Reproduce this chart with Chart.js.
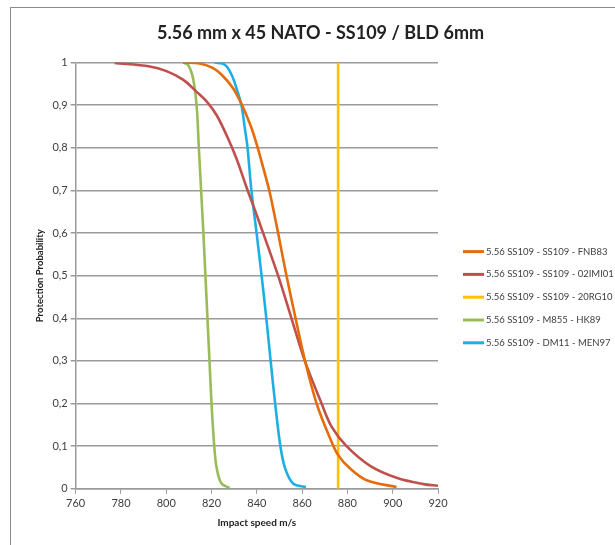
<!DOCTYPE html>
<html>
<head>
<meta charset="utf-8">
<script src="https://cdn.jsdelivr.net/npm/chart.js@4/dist/chart.umd.min.js"></script>
<style>
  body { margin: 0; background: #fff; }
  #frame { position: absolute; left: 10px; top: 7px; width: 605px; height: 538px;
           border-left: 1px solid #8c8c8c; border-top: 1px solid #8c8c8c; }
  #wrap { position: absolute; left: 0; top: 0; width: 615px; height: 545px; }
</style>
</head>
<body>
<div id="frame"></div>
<div id="wrap"><canvas id="protChart" width="615" height="545"></canvas></div>
<script>
const seriesNames = [
    '5.56 SS109 - SS109 - FNB83',
    '5.56 SS109 - SS109 - 02IMI01',
    '5.56 SS109 - SS109 - 20RG10',
    '5.56 SS109 - M855 - HK89',
    '5.56 SS109 - DM11 - MEN97'
];
const seriesColors = ['#E46C0A', '#C0504D', '#FFC000', '#9BBB59', '#1DAEE6'];

const fnb83Speed = [807.4, 814.8, 820.7, 825.1, 829.5, 833.5, 837.4, 840.4, 843, 845.5, 847.5, 849.4, 853.1, 857.1, 861.3, 866.4, 872.3, 875.9, 881.1, 888.5, 901.7];
const fnb83Prob  = [1, 0.998, 0.987, 0.968, 0.94, 0.9, 0.85, 0.8, 0.75, 0.7, 0.65, 0.6, 0.5, 0.4, 0.3, 0.2, 0.119, 0.079, 0.048, 0.02, 0.004];

const imi01Speed = [777.2, 792.7, 800.1, 807.4, 813.3, 817.8, 822.2, 826.6, 831, 835.4, 838.4, 842.8, 849.4, 855.3, 861.2, 868.6, 873, 879.6, 890, 901.7, 913.5, 920];
const imi01Prob  = [0.999, 0.991, 0.98, 0.96, 0.932, 0.909, 0.877, 0.83, 0.775, 0.708, 0.665, 0.6, 0.5, 0.4, 0.3, 0.2, 0.146, 0.1, 0.054, 0.026, 0.011, 0.007];

const rg10Speed = [875.9, 875.9];
const rg10Prob  = [1, 0];

const hk89Speed = [807.4, 809.6, 811.8, 813.4, 814.4, 815.4, 816.4, 817.3, 818.2, 819.1, 820, 821.2, 822.3, 824.4, 828];
const hk89Prob  = [1, 0.995, 0.964, 0.9, 0.8, 0.7, 0.6, 0.5, 0.4, 0.3, 0.2, 0.1, 0.048, 0.0125, 0.002];

const men97Speed = [821.4, 825.9, 828.8, 831, 833.2, 834.7, 835.9, 837.6, 839.9, 842.1, 844.2, 846.1, 848.1, 850.4, 852.5, 856, 861.7];
const men97Prob  = [1, 0.995, 0.972, 0.94, 0.9, 0.846, 0.8, 0.7, 0.6, 0.5, 0.4, 0.3, 0.2, 0.1, 0.048, 0.0125, 0.004];

const speedsList = [fnb83Speed, imi01Speed, rg10Speed, hk89Speed, men97Speed];
const probsList = [fnb83Prob, imi01Prob, rg10Prob, hk89Prob, men97Prob];

function toPoints(xs, ys) {
    return xs.map(function(x, i) { return { x: x, y: ys[i] }; });
}

// legend drawn beside the plot, Excel style (short line + label)
const sideLegend = {
    id: 'sideLegend',
    afterDraw: function(chart) {
        const c = chart.ctx;
        const area = chart.chartArea;
        const x0 = area.right + 25;
        let y = area.top + 189;
        c.save();
        c.font = '9.5px Lato';
        c.textBaseline = 'middle';
        chart.data.datasets.forEach(function(ds) {
            c.strokeStyle = ds.borderColor;
            c.lineWidth = 3;
            c.beginPath();
            c.moveTo(x0, y);
            c.lineTo(x0 + 21, y);
            c.stroke();
            c.fillStyle = '#404040';
            c.fillText(ds.label, x0 + 23, y);
            y += 22.8;
        });
        c.restore();
    }
};

const ctx = document.getElementById('protChart');
new Chart(ctx, {
    type: 'scatter',
    data: {
        datasets: seriesNames.map(function(name, i) {
            return {
                label: name,
                data: toPoints(speedsList[i], probsList[i]),
                showLine: true,
                borderColor: seriesColors[i],
                backgroundColor: seriesColors[i],
                borderWidth: 2.6,
                pointRadius: 0,
                tension: 0.35
            };
        })
    },
    plugins: [sideLegend],
    options: {
        responsive: false,
        animation: false,
        layout: { padding: { top: 12, right: 4, bottom: 12, left: 30 } },
        plugins: {
            title: {
                display: true,
                text: '5.56 mm x 45 NATO - SS109 / BLD 6mm',
                color: '#222',
                font: { family: 'Lato', size: 18, weight: 'bold' },
                padding: { top: 10, bottom: 19 }
            },
            legend: { display: false },
            tooltip: { enabled: false }
        },
        scales: {
            x: {
                type: 'linear',
                min: 760,
                max: 920,
                ticks: { stepSize: 20, color: '#404040', font: { family: 'Lato', size: 11 } },
                grid: { drawOnChartArea: false, tickLength: 5, color: '#9a9a9a' },
                border: { color: '#9a9a9a', width: 1.5 },
                title: {
                    display: true,
                    text: 'Impact speed m/s',
                    color: '#222',
                    font: { family: 'Lato', size: 10, weight: 'bold' }
                }
            },
            y: {
                min: 0,
                max: 1,
                ticks: {
                    stepSize: 0.1,
                    color: '#404040',
                    font: { family: 'Lato', size: 11 },
                    callback: function(value) {
                        return String(Math.round(value * 10) / 10).replace('.', ',');
                    }
                },
                grid: { color: '#9a9a9a', lineWidth: 1.5, tickLength: 5 },
                border: { color: '#9a9a9a', width: 1.5 },
                title: {
                    display: true,
                    text: 'Protection Probability',
                    color: '#222',
                    font: { family: 'Lato', size: 9.5, weight: 'bold' }
                }
            },
            // empty axis that only reserves room for the legend on the right
            legendSpace: {
                type: 'linear',
                position: 'right',
                ticks: { display: false },
                grid: { display: false },
                border: { display: false },
                afterFit: function(scale) { scale.width = 173; }
            }
        }
    }
});
</script>
</body>
</html>
